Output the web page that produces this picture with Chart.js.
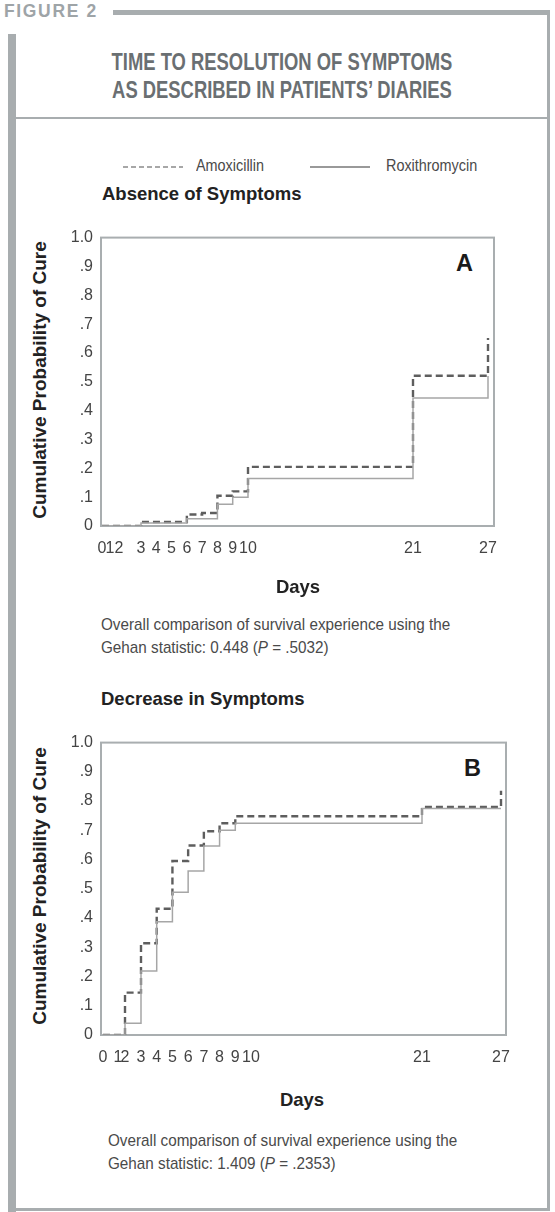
<!DOCTYPE html>
<html>
<head>
<meta charset="utf-8">
<script src="https://cdn.jsdelivr.net/npm/chart.js@4.4.1/dist/chart.umd.min.js"></script>
<style>
  html, body { margin: 0; padding: 0; background: #fff; }
  body { width: 555px; height: 1212px; position: relative; overflow: hidden;
         font-family: 'Liberation Sans', Arial, sans-serif; color: #333; }
  .abs { position: absolute; white-space: nowrap; }
  .bar { position: absolute; background: #a8adaf; }
  .fig { left: 4px; top: 0px; font: bold 19px 'Liberation Sans', sans-serif; letter-spacing: 1.8px; color: #9ea4a7;
         transform: scaleX(0.92); transform-origin: 0 0; }
  .title { left: 16px; width: 532px; text-align: center; font: bold 23px 'Liberation Sans', sans-serif;
           color: #6a6f72; transform: scaleX(0.8); transform-origin: 266px 0; }
  .sub { font: bold 18.5px 'Liberation Sans', sans-serif; color: #222; }
  .ytitle { font: bold 19px 'Liberation Sans', sans-serif; color: #222; transform: translate(-50%, -50%) rotate(-90deg); }
  .days { font: bold 18.5px 'Liberation Sans', sans-serif; color: #222; transform: translateX(-50%); }
  .note { font-size: 17px; line-height: 23px; color: #4a4a4a; transform: scaleX(0.897); transform-origin: 0 0; }
  .leg { font-size: 16px; color: #4a4a4a; transform: scaleX(0.9); transform-origin: 0 0; }
  .letter { font: bold 23.5px 'Liberation Sans', sans-serif; color: #1a1a1a; }
  canvas { position: absolute; left: 0; }
</style>
</head>
<body>

<div class="abs fig">FIGURE 2</div>
<div class="bar" style="left:113px; top:10px; width:437px; height:5px;"></div>
<div class="bar" style="left:547px; top:10px; width:3px; height:1201px;"></div>
<div class="bar" style="left:8px; top:34px; width:8px; height:1178px;"></div>
<div class="bar" style="left:16px; top:117px; width:532px; height:2px;"></div>
<div class="bar" style="left:16px; top:1208px; width:532px; height:3px;"></div>

<div class="abs title" style="top:49px;">TIME TO RESOLUTION OF SYMPTOMS</div>
<div class="abs title" style="top:77px;">AS DESCRIBED IN PATIENTS’ DIARIES</div>

<svg class="abs" style="left:122px; top:160px;" width="62" height="14">
  <line x1="1" y1="7" x2="61" y2="7" stroke="#8a8a8a" stroke-width="1.5" stroke-dasharray="5,3"/>
</svg>
<div class="abs leg" style="left:196px; top:157px;">Amoxicillin</div>
<svg class="abs" style="left:309px; top:160px;" width="62" height="14">
  <line x1="1" y1="7" x2="61" y2="7" stroke="#777" stroke-width="1.3"/>
</svg>
<div class="abs leg" style="left:386px; top:157px;">Roxithromycin</div>

<div class="abs sub" style="left:102px; top:183px;">Absence of Symptoms</div>
<div class="abs ytitle" style="left:40px; top:380px;">Cumulative Probability of Cure</div>
<div class="abs letter" style="left:456px; top:250px;">A</div>
<canvas id="chartA" width="555" height="360" style="top:220px;"></canvas>
<div class="abs days" style="left:298px; top:576px;">Days</div>
<div class="abs note" style="left:101px; top:613px;">Overall comparison of survival experience using the<br>Gehan statistic: 0.448 (<i>P</i> = .5032)</div>

<div class="abs sub" style="left:101px; top:688px;">Decrease in Symptoms</div>
<div class="abs ytitle" style="left:40px; top:886px;">Cumulative Probability of Cure</div>
<div class="abs letter" style="left:464px; top:755px;">B</div>
<canvas id="chartB" width="555" height="360" style="top:725px;"></canvas>
<div class="abs days" style="left:302px; top:1089px;">Days</div>
<div class="abs note" style="left:108px; top:1129px;">Overall comparison of survival experience using the<br>Gehan statistic: 1.409 (<i>P</i> = .2353)</div>

<script>
// values
const dayTicks = [0, 1, 2, 3, 4, 5, 6, 7, 8, 9, 10, 21, 27];
const yTickLabels = ['0', '.1', '.2', '.3', '.4', '.5', '.6', '.7', '.8', '.9', '1.0'];

// A: absence of symptoms
const amoxDaysA = [0, 3, 6, 7, 8, 9, 10, 21, 27];
const amoxCureA = [0, 0.014, 0.04, 0.045, 0.105, 0.12, 0.205, 0.521, 0.652];
const roxiDaysA = [0, 3, 6, 8, 9, 10, 21, 27];
const roxiCureA = [0, 0.01, 0.025, 0.075, 0.1, 0.165, 0.444, 0.52];

// B: decrease in symptoms
const amoxDaysB = [0, 2, 3, 4, 5, 6, 7, 8, 9, 21, 27];
const amoxCureB = [0, 0.145, 0.314, 0.432, 0.595, 0.648, 0.697, 0.724, 0.748, 0.78, 0.835];
const roxiDaysB = [0, 2, 3, 4, 5, 6, 7, 8, 9, 21, 27];
const roxiCureB = [0, 0.04, 0.219, 0.387, 0.488, 0.561, 0.646, 0.7, 0.724, 0.775, 0.775];

// the day axis in the print is not linear: [day, px from plot left]
const axisWarp = {
  chartA: [[0, 1], [1, 9], [2, 18], [3, 40], [10, 147], [21, 312], [27, 387]],
  chartB: [[0, 2], [1, 17], [2, 24], [3, 40], [10, 150], [21, 321], [27, 400]]
};

class WarpScale extends Chart.LinearScale {
  _knots() { return axisWarp[this.chart.canvas.id]; }
  getPixelForValue(v) {
    const k = this._knots();
    let px = k[k.length - 1][1];
    if (v <= k[0][0]) px = k[0][1];
    else {
      for (let i = 1; i < k.length; i++) {
        if (v <= k[i][0]) {
          px = k[i - 1][1] + (v - k[i - 1][0]) / (k[i][0] - k[i - 1][0]) * (k[i][1] - k[i - 1][1]);
          break;
        }
      }
    }
    return this.left + px;
  }
  getValueForPixel(p) {
    const k = this._knots();
    const px = p - this.left;
    for (let i = 1; i < k.length; i++) {
      if (px <= k[i][1]) {
        return k[i - 1][0] + (px - k[i - 1][1]) / (k[i][1] - k[i - 1][1]) * (k[i][0] - k[i - 1][0]);
      }
    }
    return k[k.length - 1][0];
  }
}
WarpScale.id = 'warp';
WarpScale.defaults = Chart.LinearScale.defaults;
Chart.register(WarpScale);

// box round the plot area
const framePlugin = {
  id: 'frame',
  beforeDatasetsDraw(chart) {
    const a = chart.chartArea, ctx = chart.ctx;
    ctx.save();
    ctx.strokeStyle = '#a9aeb0';
    ctx.lineWidth = 2;
    ctx.strokeRect(a.left, a.top, a.right - a.left, a.bottom - a.top);
    ctx.restore();
  }
};

const tickFont = { family: "'Liberation Sans', Arial, sans-serif", size: 16 };

function pts(days, vals) {
  return days.map((d, i) => ({ x: d, y: vals[i] }));
}

function makeChart(id, amox, roxi, padRight, padTop, padBottom) {
  return new Chart(document.getElementById(id), {
    type: 'line',
    data: {
      datasets: [
        { label: 'Roxithromycin', data: roxi, stepped: true, borderColor: '#a6a6a6', borderWidth: 1.5, pointRadius: 0, fill: false },
        { label: 'Amoxicillin', data: amox, stepped: true, borderColor: '#5e5e5e', borderWidth: 2.4, borderDash: [7, 4], pointRadius: 0, fill: false }
      ]
    },
    options: {
      responsive: false,
      animation: false,
      layout: { padding: { left: 0, right: padRight, top: padTop, bottom: padBottom } },
      plugins: { legend: { display: false }, tooltip: { enabled: false } },
      scales: {
        x: {
          type: 'warp', min: 0, max: 27,
          grid: { display: false, drawTicks: false },
          border: { display: false },
          afterBuildTicks: s => { s.ticks = dayTicks.map(v => ({ value: v })); },
          afterFit: s => { s.height = 30; },
          ticks: { autoSkip: false, maxRotation: 0, padding: 13, color: '#444', font: tickFont,
                   callback: v => String(v) }
        },
        y: {
          min: 0, max: 1,
          grid: { display: false, drawTicks: false },
          border: { display: false },
          afterFit: s => { s.width = 101; },
          ticks: { stepSize: 0.1, padding: 8, color: '#444', font: tickFont,
                   callback: (v, i) => yTickLabels[i] }
        }
      }
    },
    plugins: [framePlugin]
  });
}

makeChart('chartA', pts(amoxDaysA, amoxCureA), pts(roxiDaysA, roxiCureA), 61, 12, 24);
makeChart('chartB', pts(amoxDaysB, amoxCureB), pts(roxiDaysB, roxiCureB), 49, 13, 20);
</script>
</body>
</html>
